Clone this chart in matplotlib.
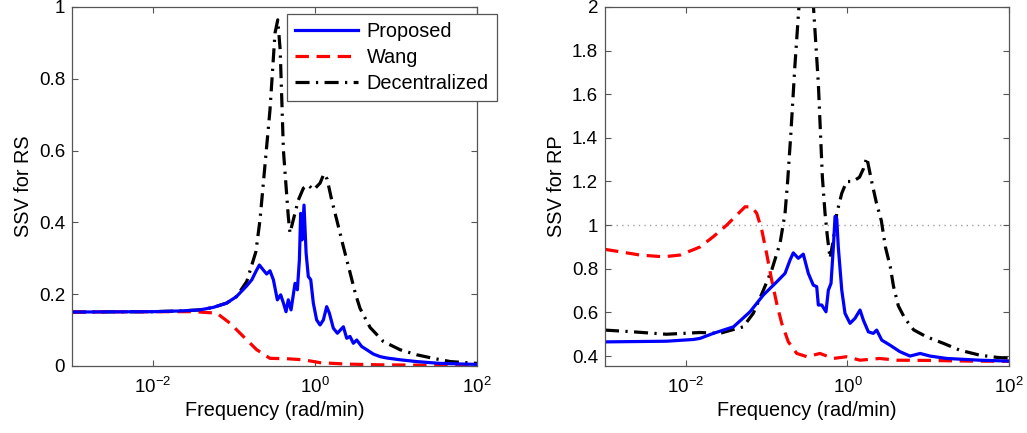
import numpy as np
import matplotlib
matplotlib.use("Agg")
import matplotlib.pyplot as plt
from matplotlib.ticker import FixedLocator, FuncFormatter, NullLocator

plt.rcParams['font.family'] = ['Liberation Sans', 'DejaVu Sans']
plt.rcParams['mathtext.fontset'] = 'custom'
plt.rcParams['mathtext.rm'] = 'Liberation Sans'
plt.rcParams['mathtext.it'] = 'Liberation Sans:italic'

series_names = ["Proposed", "Wang", "Decentralized"]

# ---- Left panel (SSV for RS): log10 frequency and values ----
rs_prop_logw = [-3.0, -2.0, -1.667, -1.42, -1.256, -1.09, -0.97, -0.843, -0.78, -0.73, -0.687,
                -0.638, -0.597, -0.556, -0.514, -0.465, -0.424, -0.39, -0.358, -0.33, -0.296,
                -0.247, -0.218, -0.193, -0.177, -0.16, -0.136, -0.11, -0.083, -0.053, -0.021,
                0.02, 0.062, 0.103, 0.144, 0.177, 0.226, 0.276, 0.35, 0.391, 0.432, 0.473,
                0.515, 0.576, 0.638, 0.72, 0.80, 0.885, 1.05, 1.255, 1.54, 2.0]
rs_prop_val = [0.150, 0.151, 0.153, 0.156, 0.163, 0.175, 0.193, 0.223, 0.24, 0.263, 0.281,
               0.267, 0.256, 0.265, 0.24, 0.184, 0.198, 0.175, 0.151, 0.184, 0.156,
               0.23, 0.212, 0.295, 0.425, 0.351, 0.448, 0.314, 0.249, 0.24, 0.175,
               0.128, 0.114, 0.128, 0.165, 0.147, 0.105, 0.091, 0.109, 0.077, 0.082, 0.063,
               0.072, 0.054, 0.045, 0.033, 0.026, 0.022, 0.017, 0.012, 0.007, 0.004]

rs_wang_logw = [-3.0, -2.0, -1.5, -1.214, -1.05, -0.885, -0.72, -0.556, -0.35, -0.144,
                0.06, 0.39, 0.8, 1.3, 2.0]
rs_wang_val = [0.150, 0.151, 0.151, 0.147, 0.119, 0.082, 0.045, 0.021, 0.02, 0.017,
               0.009, 0.005, 0.003, 0.002, 0.001]

rs_dec_logw = [-3.0, -2.0, -1.667, -1.42, -1.256, -1.09, -0.97, -0.843, -0.73, -0.679, -0.638,
               -0.556, -0.494, -0.46, -0.43, -0.39, -0.33, -0.309, -0.268, -0.206, -0.144,
               -0.083, -0.02, 0.062, 0.11, 0.15, 0.206, 0.268, 0.35, 0.43, 0.50, 0.556,
               0.68, 0.843, 1.05, 1.255, 1.46, 1.67, 2.0]
rs_dec_val = [0.150, 0.151, 0.153, 0.156, 0.163, 0.175, 0.193, 0.235, 0.318, 0.407, 0.509,
              0.713, 0.927, 0.964, 0.88, 0.60, 0.416, 0.37, 0.407, 0.462, 0.495,
              0.504, 0.49, 0.509, 0.535, 0.52, 0.462, 0.407, 0.332, 0.262, 0.20, 0.16,
              0.107, 0.068, 0.045, 0.031, 0.021, 0.012, 0.007]

# ---- Right panel (SSV for RP) ----
rp_prop_logw = [-3.0, -2.24, -1.907, -1.824, -1.66, -1.41, -1.205, -1.04, -0.875, -0.772, -0.71,
                -0.67, -0.608, -0.546, -0.484, -0.422, -0.38, -0.36, -0.318, -0.265, -0.236,
                -0.203, -0.174, -0.153, -0.132, -0.113, -0.07, -0.03, 0.032, 0.094, 0.156,
                0.197, 0.259, 0.32, 0.362, 0.425, 0.527, 0.65, 0.775, 0.90, 1.022, 1.23,
                1.434, 1.64, 2.0]
rp_prop_val = [0.465, 0.468, 0.476, 0.481, 0.504, 0.534, 0.603, 0.68, 0.74, 0.779, 0.84,
               0.873, 0.848, 0.867, 0.779, 0.725, 0.718, 0.634, 0.634, 0.603, 0.702,
               0.733, 0.90, 1.04, 1.03, 0.90, 0.702, 0.596, 0.55, 0.573, 0.611,
               0.565, 0.511, 0.504, 0.519, 0.473, 0.45, 0.42, 0.40, 0.412, 0.40, 0.389,
               0.385, 0.381, 0.377]

rp_wang_logw = [-3.0, -2.814, -2.567, -2.278, -2.07, -1.824, -1.66, -1.494, -1.37, -1.267,
                -1.184, -1.122, -1.06, -1.0, -0.937, -0.875, -0.813, -0.731, -0.627, -0.50,
                -0.34, -0.175, -0.01, 0.156, 0.40, 0.61, 1.0, 1.5, 2.0]
rp_wang_val = [0.889, 0.878, 0.863, 0.855, 0.863, 0.90, 0.947, 1.0, 1.046, 1.084,
               1.084, 1.054, 0.978, 0.87, 0.748, 0.641, 0.55, 0.465, 0.412, 0.397,
               0.412, 0.389, 0.397, 0.381, 0.389, 0.381, 0.38, 0.377, 0.376]

rp_dec_logw = [-3.0, -2.65, -2.24, -1.824, -1.58, -1.29, -1.165, -1.04, -0.937, -0.834, -0.772,
               -0.74, -0.70, -0.65, -0.60, -0.51, -0.42, -0.36, -0.31, -0.277, -0.248,
               -0.215, -0.174, -0.132, -0.07, -0.01, 0.07, 0.15, 0.20, 0.24, 0.30,
               0.36, 0.42, 0.47, 0.53, 0.57, 0.63, 0.71, 0.82, 0.98, 1.19, 1.39,
               1.64, 1.85, 2.0]
rp_dec_val = [0.519, 0.511, 0.50, 0.508, 0.504, 0.534, 0.596, 0.702, 0.794, 0.917, 1.054,
              1.2, 1.42, 1.73, 2.0, 3.0, 2.0, 1.65, 1.22, 1.054, 0.947,
              0.848, 0.932, 1.054, 1.146, 1.20, 1.20, 1.22, 1.26, 1.31, 1.2,
              1.10, 1.02, 0.90, 0.81, 0.72, 0.63, 0.573, 0.52, 0.488, 0.458, 0.427,
              0.404, 0.394, 0.39]

rs_yticks = [0, 0.2, 0.4, 0.6, 0.8, 1.0]
rp_yticks = [0.4, 0.6, 0.8, 1.0, 1.2, 1.4, 1.6, 1.8, 2.0]
xticks = [1e-2, 1e0, 1e2]

fig = plt.figure(figsize=(10.27, 4.33), dpi=100)
axL = fig.add_axes([0.0701, 0.155, 0.3944, 0.829])
axR = fig.add_axes([0.5891, 0.155, 0.3934, 0.829])

LW = 2.3
styles = [dict(color='#0000ff', ls='-', lw=LW),
          dict(color='#ff0000', ls=(0, (4.2, 2.4)), lw=LW),
          dict(color='black', ls=(0, (4.4, 2.0, 0.7, 2.0)), lw=LW)]

def to_w(lw):
    return 10.0 ** np.asarray(lw)

left_data = [(rs_prop_logw, rs_prop_val), (rs_wang_logw, rs_wang_val), (rs_dec_logw, rs_dec_val)]
right_data = [(rp_prop_logw, rp_prop_val), (rp_wang_logw, rp_wang_val), (rp_dec_logw, rp_dec_val)]

order = [2, 1, 0]
handles = {}
for i in order:
    lw_, v = left_data[i]
    h, = axL.plot(to_w(lw_), v, label=series_names[i], **styles[i])
    handles[i] = h
for i in order:
    lw_, v = right_data[i]
    axR.plot(to_w(lw_), v, **styles[i])

axR.axhline(1.0, color='#a0a0a0', ls=(0, (1, 3)), lw=1.0, zorder=0)

def fmt_y(v, pos):
    return ('%.1f' % v).rstrip('0').rstrip('.')

def fmt_x(v, pos):
    e = int(round(np.log10(v)))
    return r'$\mathregular{10^{%d}}$' % e

for ax, yt, ylim, ylab in [(axL, rs_yticks, (0, 1), 'SSV for RS'),
                           (axR, rp_yticks, (0.355, 2), 'SSV for RP')]:
    ax.set_xscale('log')
    ax.set_xlim(1e-3, 1e2)
    ax.set_ylim(*ylim)
    ax.xaxis.set_major_locator(FixedLocator(xticks))
    ax.xaxis.set_minor_locator(NullLocator())
    ax.xaxis.set_major_formatter(FuncFormatter(fmt_x))
    ax.yaxis.set_major_locator(FixedLocator(yt))
    ax.yaxis.set_major_formatter(FuncFormatter(fmt_y))
    ax.tick_params(direction='in', top=True, right=True, length=4, width=0.8,
                   color='#555555', labelsize=13.5, pad=5)
    ax.tick_params(axis='x', pad=8)
    for sp in ax.spines.values():
        sp.set_color('#555555')
        sp.set_linewidth(0.9)
    ax.set_xlabel('Frequency (rad/min)', fontsize=14.3, labelpad=3)
    ax.set_ylabel(ylab, fontsize=14.3)

leg = axL.legend([handles[0], handles[1], handles[2]], series_names,
                 loc='upper left', bbox_to_anchor=(0.531, 0.981), fontsize=14.3,
                 handlelength=3.15, handletextpad=0.45, borderpad=0.4, labelspacing=0.36,
                 fancybox=False, framealpha=1, edgecolor='#555555', borderaxespad=0)
leg.get_frame().set_linewidth(0.9)

fig.savefig('out.png', dpi=100)
